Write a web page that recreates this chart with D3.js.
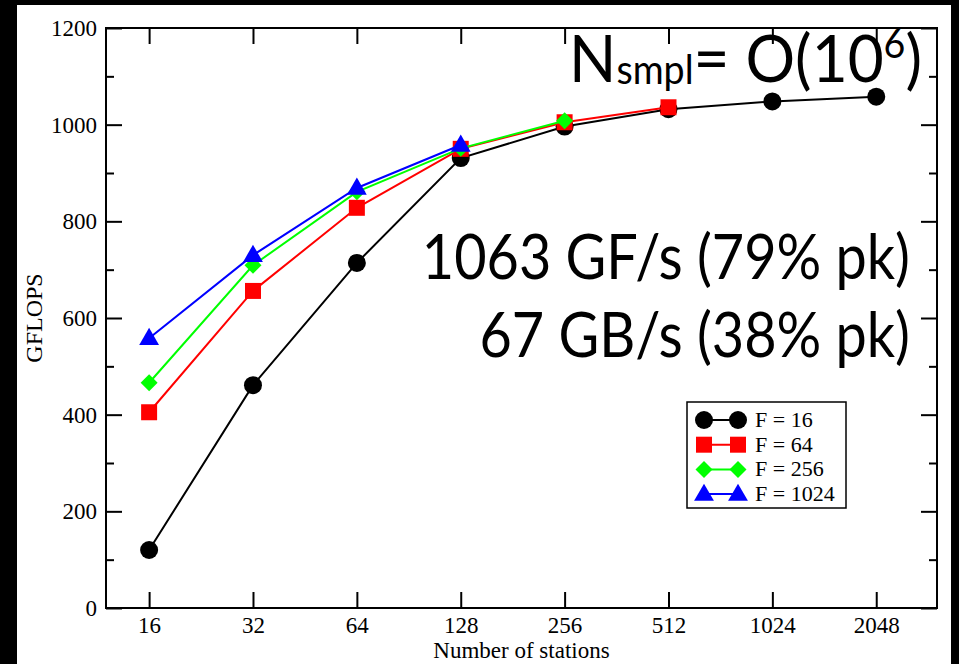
<!DOCTYPE html>
<html>
<head>
<meta charset="utf-8">
<script src="https://cdn.jsdelivr.net/npm/d3@7"></script>
<style>
  body { margin:0; background:#000; }
  svg { display:block; }
  .serif { font-family:"Liberation Serif","Times New Roman",serif; }
  .big { font-family:Lato,"Open Sans",sans-serif; }
</style>
</head>
<body>
<div id="chart"></div>
<script>
// data
var stations = [16, 32, 64, 128, 256, 512, 1024, 2048];
var f16   = [120, 461, 714, 931, 996, 1032, 1048, 1058];
var f64   = [405, 656, 828, 950, 1005, 1036];
var f256  = [466, 709, 861, 951, 1008];
var f1024 = [558, 730, 869, 958];
var yTicks = [0, 200, 400, 600, 800, 1000, 1200];
var yMinor = [100, 300, 500, 700, 900, 1100];
var seriesNames = ["F = 16", "F = 64", "F = 256", "F = 1024"];
var seriesColors = ["#000000", "#ff0000", "#00ff00", "#0000ff"];
var seriesShapes = ["circle", "square", "diamond", "triangle"];

var W = 959, H = 664;
var m = {l:106, r:937, t:28, b:608};

var svg = d3.select("#chart").append("svg").attr("width", W).attr("height", H);
svg.append("rect").attr("width", W).attr("height", H).attr("fill", "#000");
svg.append("rect").attr("x", 17).attr("y", 5).attr("width", 934).attr("height", H - 5).attr("fill", "#fff");

var x = d3.scaleLog().base(2).domain([12, 3072]).range([m.l, m.r]);
var y = d3.scaleLinear().domain([0, 1200]).range([m.b, m.t]);

function styleAxis(g) {
    g.select(".domain").remove();
    g.selectAll("line").attr("stroke", "#000").attr("stroke-width", 2);
    g.selectAll("text").attr("class", "serif").attr("font-size", 23).attr("fill", "#000").attr("font-family", null);
}

// bottom / top
svg.append("g").attr("transform", "translate(0," + m.b + ")")
    .call(d3.axisBottom(x).tickValues(stations).tickFormat(d3.format("d")).tickSize(-16).tickPadding(9))
    .call(styleAxis);
svg.append("g").attr("transform", "translate(0," + m.t + ")")
    .call(d3.axisTop(x).tickValues(stations).tickFormat("").tickSize(-16))
    .call(styleAxis);

// left / right, major and minor
svg.append("g").attr("transform", "translate(" + m.l + ",0)")
    .call(d3.axisLeft(y).tickValues(yTicks).tickFormat(d3.format("d")).tickSize(-16).tickPadding(9))
    .call(styleAxis);
svg.append("g").attr("transform", "translate(" + m.l + ",0)")
    .call(d3.axisLeft(y).tickValues(yMinor).tickFormat("").tickSize(-8))
    .call(styleAxis);
svg.append("g").attr("transform", "translate(" + m.r + ",0)")
    .call(d3.axisRight(y).tickValues(yTicks).tickFormat("").tickSize(-16))
    .call(styleAxis);
svg.append("g").attr("transform", "translate(" + m.r + ",0)")
    .call(d3.axisRight(y).tickValues(yMinor).tickFormat("").tickSize(-8))
    .call(styleAxis);

svg.append("rect").attr("x", m.l).attr("y", m.t).attr("width", m.r - m.l).attr("height", m.b - m.t)
    .attr("fill", "none").attr("stroke", "#000").attr("stroke-width", 2);

// axis titles
svg.append("text").attr("class", "serif").attr("x", (m.l + m.r) / 2).attr("y", 658)
    .attr("text-anchor", "middle").attr("font-size", 23).text("Number of stations");
svg.append("text").attr("class", "serif").attr("transform", "translate(42," + ((m.t + m.b) / 2) + ") rotate(-90)")
    .attr("text-anchor", "middle").attr("font-size", 24).text("GFLOPS");

// annotation texts
var t1 = svg.append("text").attr("class", "big")
    .attr("transform", "translate(922,82) scale(0.94,1)")
    .attr("text-anchor", "end").attr("font-size", 66).attr("fill", "#000");
t1.append("tspan").text("N");
t1.append("tspan").attr("font-size", 40).attr("dy", 2).text("smpl");
t1.append("tspan").attr("dy", -2).text("= O(10");
t1.append("tspan").attr("font-size", 40).attr("dy", -24).text("6");
t1.append("tspan").attr("dy", 24).text(")");

svg.append("text").attr("class", "big").attr("transform", "translate(910,279) scale(0.9,1)")
    .attr("text-anchor", "end").attr("font-size", 62).text("1063 GF/s (79% pk)");
svg.append("text").attr("class", "big").attr("transform", "translate(910,357) scale(0.9,1)")
    .attr("text-anchor", "end").attr("font-size", 62).text("67 GB/s (38% pk)");

// series
var symbolTypes = {circle:d3.symbolCircle, square:d3.symbolSquare, diamond:d3.symbolSquare, triangle:d3.symbolTriangle};
var symbolSizes = {circle:Math.PI * 81, square:256, diamond:144, triangle:170};

function symTransform(shape, px, py) {
    if (shape == "triangle") return "translate(" + px + "," + (py + 1) + ")";
    if (shape == "diamond") return "translate(" + px + "," + py + ") rotate(45)";
    return "translate(" + px + "," + py + ")";
}

function drawSeries(vals, i) {
    var pts = vals.map(function(v, k) { return [stations[k], v]; });
    var g = svg.append("g");
    g.append("path").datum(pts)
        .attr("d", d3.line().x(function(d) { return x(d[0]); }).y(function(d) { return y(d[1]); }))
        .attr("fill", "none").attr("stroke", seriesColors[i]).attr("stroke-width", 2);
    var shape = seriesShapes[i];
    g.selectAll("path.sym").data(pts).enter().append("path").attr("class", "sym")
        .attr("transform", function(d) { return symTransform(shape, x(d[0]), y(d[1])); })
        .attr("d", d3.symbol().type(symbolTypes[shape]).size(symbolSizes[shape]))
        .attr("fill", seriesColors[i]);
}
[f16, f64, f256, f1024].forEach(drawSeries);

// legend
var lg = svg.append("g");
lg.append("rect").attr("x", 687).attr("y", 402).attr("width", 159).attr("height", 106)
    .attr("fill", "#fff").attr("stroke", "#000").attr("stroke-width", 1.5);
seriesNames.forEach(function(name, i) {
    var yy = 420 + i * 24.7;
    var shape = seriesShapes[i];
    lg.append("line").attr("x1", 704).attr("x2", 738).attr("y1", yy).attr("y2", yy)
        .attr("stroke", seriesColors[i]).attr("stroke-width", 2);
    [704, 738].forEach(function(xx) {
        lg.append("path").attr("transform", symTransform(shape, xx, yy))
            .attr("d", d3.symbol().type(symbolTypes[shape]).size(symbolSizes[shape]))
            .attr("fill", seriesColors[i]);
    });
    lg.append("text").attr("class", "serif").attr("x", 755).attr("y", yy + 7)
        .attr("font-size", 22).text(name);
});
</script>
</body>
</html>
